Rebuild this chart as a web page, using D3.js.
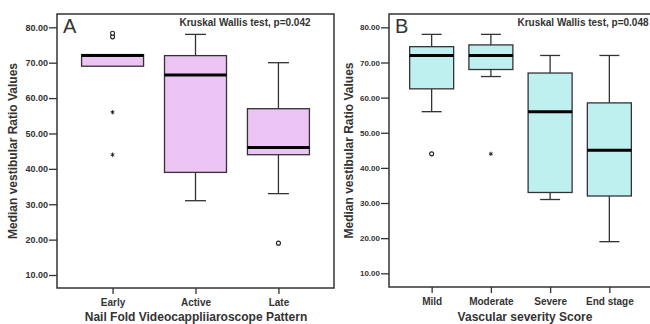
<!DOCTYPE html>
<html>
<head>
<meta charset="utf-8">
<script src="https://cdn.jsdelivr.net/npm/d3@7"></script>
<style>
  body { margin: 0; background: #fff; }
  svg { display: block; font-family: "Liberation Sans", Arial, sans-serif; }
</style>
</head>
<body>
<svg width="650" height="324"></svg>
<script>
// Panel A data
const catsA = ["Early", "Active", "Late"];
const loA = [null, 31, 33];
const q1A = [69, 39, 44];
const medA = [72, 66.5, 46];
const q3A = [72.3, 72, 57];
const hiA = [null, 78, 70];
const circlesA = [["Early", 77.3], ["Early", 78.3], ["Late", 19]];
const starsA = [["Early", 56], ["Early", 44]];

// Panel B data
const catsB = ["Mild", "Moderate", "Severe", "End stage"];
const loB = [56, 66, 31, 19];
const q1B = [62.5, 68, 33, 32];
const medB = [72, 72, 56, 45];
const q3B = [74.5, 75, 67, 58.5];
const hiB = [78, 78, 72, 72];
const circlesB = [["Mild", 44]];
const starsB = [["Moderate", 44]];

const yTicks = [10, 20, 30, 40, 50, 60, 70, 80];

const svg = d3.select("svg");

function panel(p) {
  const g = svg.append("g");
  const x = d3.scalePoint().domain(p.cats).range([p.left, p.right]).padding(p.pad);
  const y = d3.scaleLinear().domain([p.yMin, p.yMax]).range([p.bottom, p.top]);

  // frame
  g.append("rect")
    .attr("x", p.left).attr("y", p.top)
    .attr("width", p.right - p.left).attr("height", p.bottom - p.top)
    .attr("fill", "none").attr("stroke", "#333").attr("stroke-width", 1.5);

  // y axis
  const ya = g.append("g").attr("transform", `translate(${p.left},0)`)
    .call(d3.axisLeft(y).tickValues(yTicks).tickFormat(d3.format(".2f")).tickSize(8).tickPadding(1));
  ya.select(".domain").remove();
  ya.selectAll("line").attr("stroke", "#333").attr("stroke-width", 1.3);
  ya.selectAll("text").attr("font-size", p.tickFont).attr("font-weight", "bold").attr("fill", "#333")
    .attr("font-family", "Liberation Sans, Arial, sans-serif");

  // x axis
  const xa = g.append("g").attr("transform", `translate(0,${p.bottom})`)
    .call(d3.axisBottom(x).tickSize(6).tickPadding(5));
  xa.select(".domain").remove();
  xa.selectAll("line").attr("stroke", "#333").attr("stroke-width", 1.3);
  xa.selectAll("text").attr("font-size", 10).attr("font-weight", "bold").attr("fill", "#333")
    .attr("font-family", "Liberation Sans, Arial, sans-serif");

  // boxes
  p.cats.forEach((c, i) => {
    const cx = x(c);
    const bw = p.boxW;
    if (p.hi[i] != null) {
      g.append("line").attr("x1", cx).attr("x2", cx).attr("y1", y(p.q3[i])).attr("y2", y(p.hi[i]))
        .attr("stroke", "#333").attr("stroke-width", 1.3);
      g.append("line").attr("x1", cx - p.capW / 2).attr("x2", cx + p.capW / 2)
        .attr("y1", y(p.hi[i])).attr("y2", y(p.hi[i])).attr("stroke", "#333").attr("stroke-width", 1.3);
    }
    if (p.lo[i] != null) {
      g.append("line").attr("x1", cx).attr("x2", cx).attr("y1", y(p.q1[i])).attr("y2", y(p.lo[i]))
        .attr("stroke", "#333").attr("stroke-width", 1.3);
      g.append("line").attr("x1", cx - p.capW / 2).attr("x2", cx + p.capW / 2)
        .attr("y1", y(p.lo[i])).attr("y2", y(p.lo[i])).attr("stroke", "#333").attr("stroke-width", 1.3);
    }
    g.append("rect")
      .attr("x", cx - bw / 2).attr("y", y(p.q3[i]))
      .attr("width", bw).attr("height", y(p.q1[i]) - y(p.q3[i]))
      .attr("fill", p.fill).attr("stroke", "#333").attr("stroke-width", 1.3);
    g.append("line").attr("x1", cx - bw / 2).attr("x2", cx + bw / 2)
      .attr("y1", y(p.med[i])).attr("y2", y(p.med[i]))
      .attr("stroke", "#000").attr("stroke-width", 3);
  });

  // outliers
  p.circles.forEach(([c, v]) => {
    g.append("circle").attr("cx", x(c)).attr("cy", y(v)).attr("r", 2)
      .attr("fill", "#fff").attr("stroke", "#222").attr("stroke-width", 1.1);
  });
  p.stars.forEach(([c, v]) => {
    g.append("path").attr("transform", `translate(${x(c)},${y(v)})`)
      .attr("d", d3.symbol(d3.symbolAsterisk, 12)())
      .attr("stroke", "#222").attr("stroke-width", 1).attr("fill", "none");
  });

  // panel letter
  g.append("text").attr("x", p.left + 6).attr("y", p.top + 19)
    .attr("font-size", 20).attr("fill", "#333").text(p.letter);

  // test annotation
  g.append("text").attr("x", p.noteX).attr("y", p.top + 12)
    .attr("text-anchor", "middle").attr("font-size", 10).attr("font-weight", "bold").attr("fill", "#333")
    .text(p.note);

  // axis titles
  g.append("text")
    .attr("transform", `translate(${p.yTitleX},${(p.top + p.bottom) / 2}) rotate(-90)`)
    .attr("text-anchor", "middle").attr("font-size", 12).attr("font-weight", "bold").attr("fill", "#333")
    .text("Median vestibular Ratio Values");
  g.append("text").attr("x", p.xTitleX).attr("y", 321)
    .attr("text-anchor", "middle").attr("font-size", 12).attr("font-weight", "bold").attr("fill", "#333")
    .text(p.xTitle);
}

panel({
  cats: catsA, lo: loA, q1: q1A, med: medA, q3: q3A, hi: hiA,
  circles: circlesA, stars: starsA,
  left: 57, right: 334, top: 14, bottom: 288, pad: 0.67,
  yMin: 6.33, yMax: 83.76, boxW: 62, capW: 21, tickFont: 9,
  fill: "#ecc4f4", letter: "A", note: "Kruskal Wallis test, p=0.042", noteX: 245,
  yTitleX: 17, xTitle: "Nail Fold Videocappliiaroscope Pattern", xTitleX: 196
});

panel({
  cats: catsB, lo: loB, q1: q1B, med: medB, q3: q3B, hi: hiB,
  circles: circlesB, stars: starsB,
  left: 389, right: 652, top: 14, bottom: 287, pad: 0.72,
  yMin: 6.1, yMax: 83.8, boxW: 44, capW: 20, tickFont: 8,
  fill: "#bff0f0", letter: "B", note: "Kruskal Wallis test, p=0.048", noteX: 583,
  yTitleX: 353, xTitle: "Vascular severity Score", xTitleX: 525
});
</script>
</body>
</html>
